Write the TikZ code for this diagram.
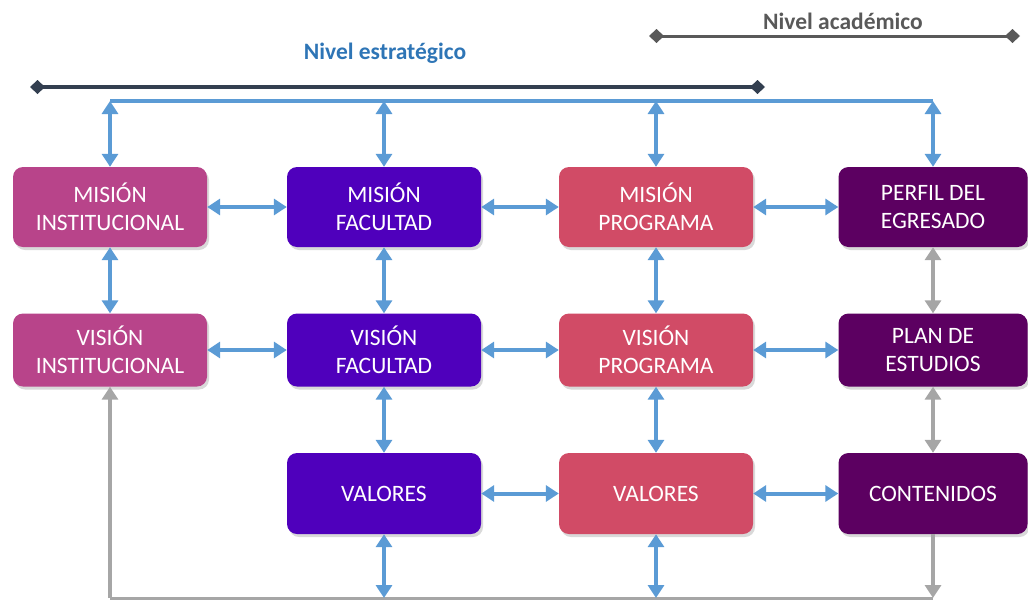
\documentclass[tikz,border=0pt]{standalone}
\usepackage{fontspec}
\setmainfont{Carlito}
\usetikzlibrary{arrows.meta,shadows}
\definecolor{cInst}{HTML}{B8448A}
\definecolor{cFac}{HTML}{4F00BC}
\definecolor{cProg}{HTML}{D14B66}
\definecolor{cAcad}{HTML}{5C0061}
\definecolor{arrblue}{HTML}{5B9BD5}
\definecolor{arrgray}{HTML}{A6A6A6}
\definecolor{darkline}{HTML}{333F50}
\definecolor{acadline}{HTML}{595959}
\definecolor{estblue}{HTML}{2E75B6}
\tikzset{
  box/.style={rounded corners=10pt, minimum width=194pt, inner sep=0pt, text=white,
    align=center, font=\fontsize{23.5}{28}\selectfont,
    drop shadow={shadow xshift=2pt, shadow yshift=-3pt, opacity=0.3}},
  tallbox/.style={box, minimum height=80pt},
  shortbox/.style={box, minimum height=73pt},
  tipa/.tip={Triangle[width=16pt,length=13pt]},
  barrow/.style={draw=arrblue, line width=4pt, tipa-tipa},
  garrow/.style={draw=arrgray, line width=4pt, tipa-tipa},
  gup/.style={draw=arrgray, line width=3.5pt, -tipa},
  bline/.style={draw=arrblue, line width=3.5pt},
  gline/.style={draw=arrgray, line width=3pt},
  lvl/.style={font=\bfseries\fontsize{23.5}{28}\selectfont},
}
\begin{document}
\begin{tikzpicture}[x=1pt,y=-1pt]
\useasboundingbox (0,0) rectangle (1028,600);
% level labels
\node[lvl, text=estblue] (ne) at (385,53) {Nivel estratégico};
\node[lvl, text=acadline] (na) at (843,21) {Nivel académico};
\coordinate (dl) at (30,87);
\coordinate (dr) at (765,87);
\coordinate (al) at (649,36);
\coordinate (ar) at (1020,36);
\draw[darkline, line width=4pt, {Diamond[width=14pt,length=15pt]}-{Diamond[width=14pt,length=15pt]}] (dl) -- (dr);
\draw[acadline, line width=3pt, {Diamond[width=14pt,length=15pt]}-{Diamond[width=14pt,length=15pt]}] (al) -- (ar);
% boxes
\node[tallbox, fill=cInst] (mi) at (110,207) {MISIÓN\\INSTITUCIONAL};
\node[tallbox, fill=cFac]  (mf) at (384,207) {MISIÓN\\FACULTAD};
\node[tallbox, fill=cProg] (mp) at (656,207) {MISIÓN\\PROGRAMA};
\node[tallbox, fill=cAcad, minimum width=189pt] (pe) at (933,207) {PERFIL DEL\\EGRESADO};
\node[shortbox, fill=cInst] (vi) at (110,350) {VISIÓN\\INSTITUCIONAL};
\node[shortbox, fill=cFac]  (vf) at (384,350) {VISIÓN\\FACULTAD};
\node[shortbox, fill=cProg] (vp) at (656,350) {VISIÓN\\PROGRAMA};
\node[shortbox, fill=cAcad, minimum width=189pt] (pl) at (933,350) {PLAN DE\\ESTUDIOS};
\node[tallbox, fill=cFac, minimum height=81pt]  (va) at (384,493.5) {VALORES};
\node[tallbox, fill=cProg, minimum height=81pt] (vb) at (656,493.5) {VALORES};
\node[tallbox, fill=cAcad, minimum height=81pt, minimum width=189pt] (co) at (933,493.5) {CONTENIDOS};
% top blue bus
\coordinate (tl) at (110,101);
\coordinate (tr) at (933,101);
\draw[bline] (tl) -- (tr);
\draw[barrow] (mi.north |- tl) -- (mi.north);
\draw[barrow] (mf.north |- tl) -- (mf.north);
\draw[barrow] (mp.north |- tl) -- (mp.north);
\draw[barrow] (pe.north |- tl) -- (pe.north);
% horizontal arrows
\draw[barrow] (mi.east) -- (mf.west);
\draw[barrow] (mf.east) -- (mp.west);
\draw[barrow] (mp.east) -- (pe.west);
\draw[barrow] (vi.east) -- (vf.west);
\draw[barrow] (vf.east) -- (vp.west);
\draw[barrow] (vp.east) -- (pl.west);
\draw[barrow] (va.east) -- (vb.west);
\draw[barrow] (vb.east) -- (co.west);
% vertical arrows
\draw[barrow] (mi.south) -- (vi.north);
\draw[barrow] (mf.south) -- (vf.north);
\draw[barrow] (mp.south) -- (vp.north);
\draw[garrow] (pe.south) -- (pl.north);
\draw[barrow] (vf.south) -- (va.north);
\draw[barrow] (vp.south) -- (vb.north);
\draw[garrow] (pl.south) -- (co.north);
% bottom gray bus
\coordinate (bl) at (110,598);
\coordinate (br) at (933,598);
\draw[gline] (bl) -- (br);
\draw[gup] (bl) -- (vi.south);
\draw[barrow] (va.south) -- (va.south |- bl);
\draw[barrow] (vb.south) -- (vb.south |- bl);
\draw[gup] (co.south) -- (co.south |- br);
\end{tikzpicture}
\end{document}
